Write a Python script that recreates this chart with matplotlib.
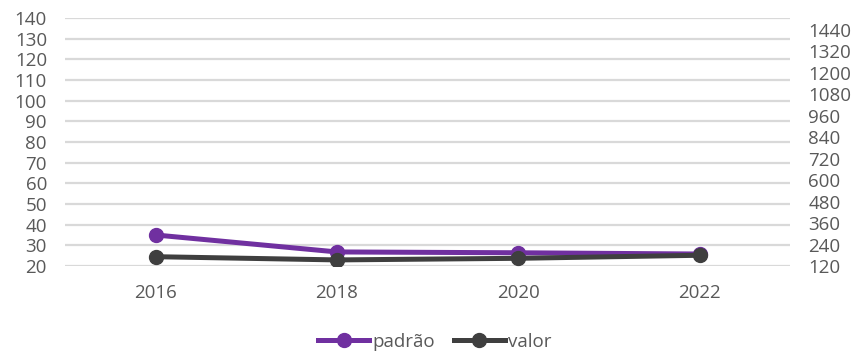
import matplotlib.pyplot as plt

plt.rcParams['font.family'] = ['Open Sans', 'DejaVu Sans']

# Series
years = ['2016', '2018', '2020', '2022']
padrao = [35, 26.8, 26.4, 25.8]      # left axis
valor = [172, 154, 163, 180]         # right axis

left_ticks = list(range(20, 141, 10))
right_ticks = list(range(120, 1441, 120))

purple = '#7030A0'
dark = '#3F3F3F'
grey_txt = '#595959'

fig = plt.figure(figsize=(8.58, 3.54), dpi=100)
ax = fig.add_axes([0.0758, 0.2486, 0.8452, 0.7006])
ax2 = ax.twinx()

x = range(len(years))
l1, = ax.plot(x, padrao, color=purple, lw=3.6, marker='o', ms=10, zorder=3)
l2, = ax2.plot(x, valor, color=dark, lw=3.6, marker='o', ms=10, zorder=3)

ax.set_xlim(-0.5, 3.5)
ax.set_ylim(20, 140)
ax.set_yticks(left_ticks)
ax2.set_ylim(120, 1507)
ax2.set_yticks(right_ticks)

ax.set_xticks(list(x))
ax.set_xticklabels(years)
ax.yaxis.grid(True, color='#D9D9D9', lw=1.6)
ax.set_axisbelow(True)

for a in (ax, ax2):
    for s in a.spines.values():
        s.set_visible(False)
    a.tick_params(length=0, labelsize=13.5, colors=grey_txt)
ax.tick_params(axis='y', pad=13)
ax.tick_params(axis='x', pad=13)
ax2.tick_params(axis='y', pad=13)

fig.legend([l1, l2], ['padrão', 'valor'], loc='center',
           bbox_to_anchor=(0.507, 0.034), ncol=2, frameon=False,
           fontsize=13.5, labelcolor=grey_txt, handlelength=2.7,
           handletextpad=0.2, columnspacing=1.0)

fig.savefig('out.png', dpi=100)
